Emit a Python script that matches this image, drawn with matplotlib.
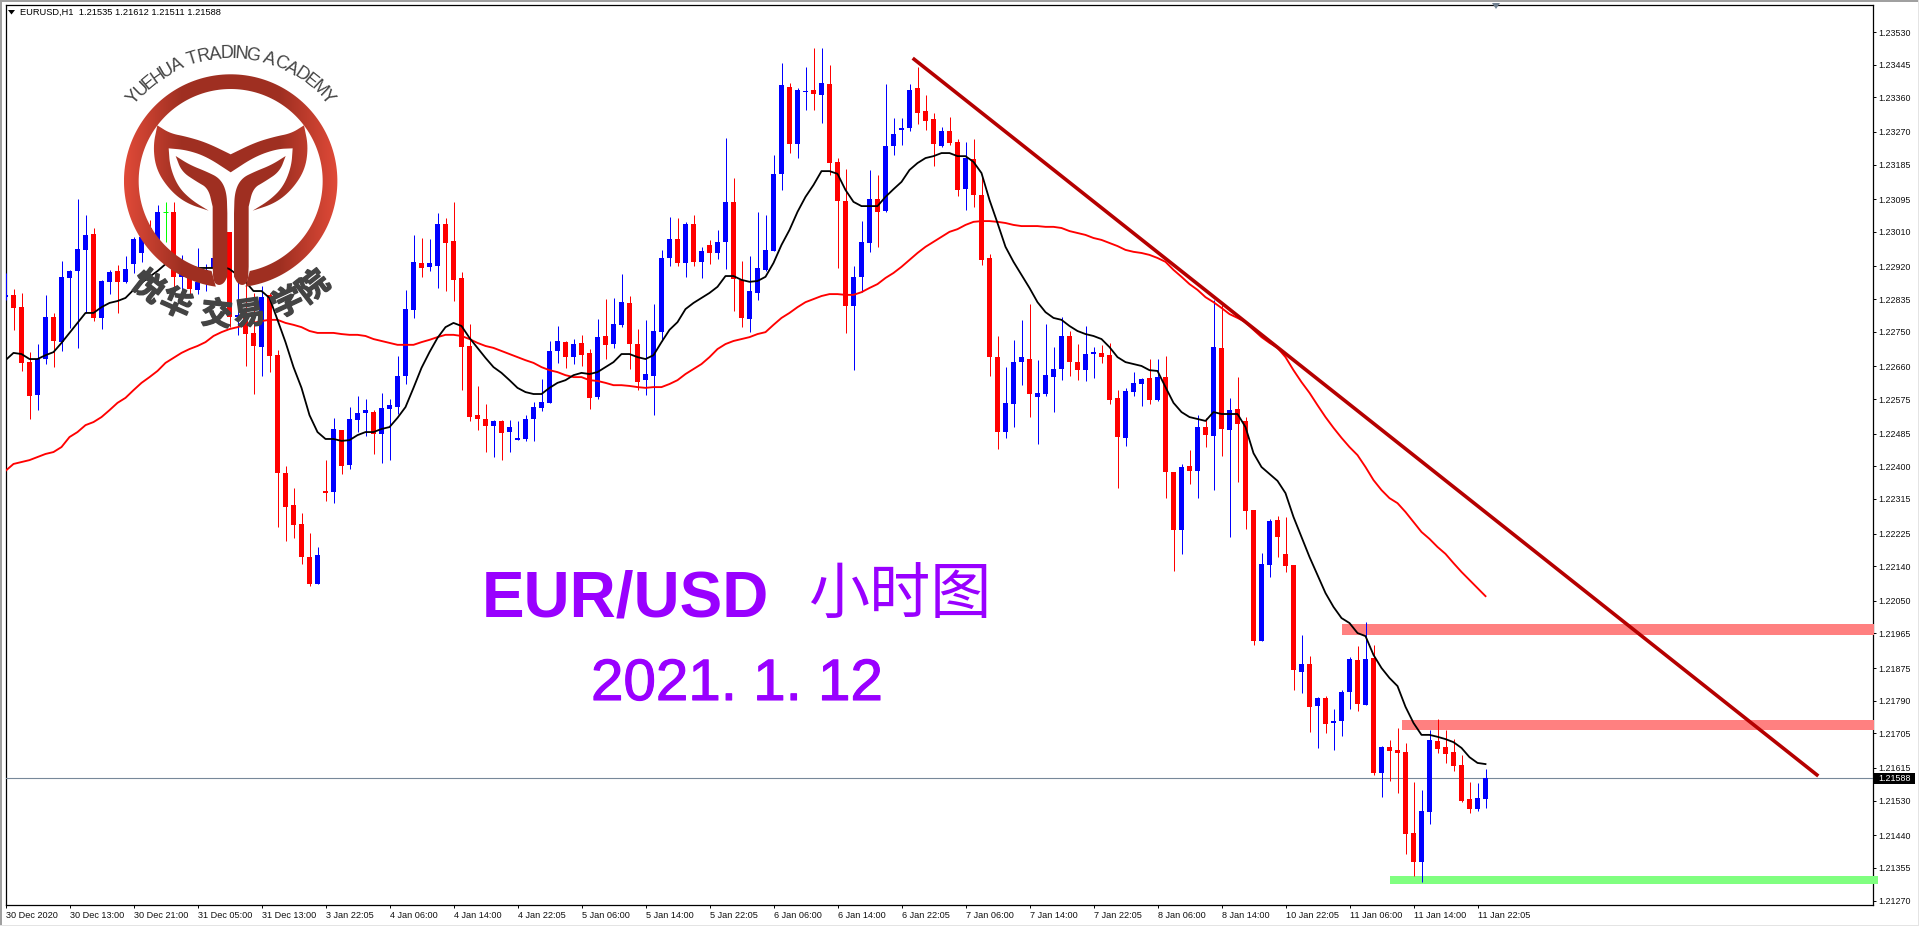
import numpy as np
import matplotlib
matplotlib.use("Agg")
import matplotlib.pyplot as plt
import matplotlib.patheffects as pe
from matplotlib.path import Path
from matplotlib.patches import PathPatch, Polygon, Rectangle
from matplotlib.textpath import TextPath
from matplotlib.font_manager import FontProperties
from matplotlib.transforms import ScaledTranslation

# ---------- data (prices expressed in points above 1.20000) ----------
base_price = 1.2
point = 1e-5

highs = [2903,2861,2851,2697,2718,2846,2799,2934,2911,3096,
3054,3020,2885,2911,2924,2947,2997,3010,3041,3080,
3088,3088,2950,2924,2968,2926,2958,2950,3010,2903,
2877,2851,2869,2851,2703,2401,2343,2278,2226,2190,
2416,2526,2494,2554,2583,2575,2546,2591,2575,2687,
2859,3002,2994,2991,3059,3046,3088,2906,2770,2609,
2562,2520,2520,2520,2518,2533,2567,2627,2726,2765,
2726,2731,2742,2705,2783,2835,2838,2900,2843,2757,
2781,2822,2963,3049,3046,3036,3054,2971,2989,3015,
3254,3150,2934,2947,3062,3054,3210,3449,3397,3384,
3439,3488,3488,3444,3202,3174,2921,3038,3171,3158,
3395,3306,3306,3395,3439,3366,3319,3283,3309,3252,
3244,3252,3158,2952,2739,2658,2729,2781,2822,2676,
2770,2710,2788,2752,2718,2765,2710,2716,2721,2598,
2604,2645,2630,2679,2679,2687,2385,2406,2442,2533,
2526,2833,2820,2578,2632,2528,2286,2174,2263,2271,
2268,2143,1961,1906,1800,1802,1768,1818,1904,1932,
1995,1935,1672,1688,1719,1680,1578,1558,1714,1742,
1714,1690,1649,1578,1576,1612]

lows = [2833,2755,2648,2523,2546,2666,2658,2700,2760,2708,
2799,2778,2757,2848,2799,2877,2903,2932,2963,2963,
2984,2859,2859,2846,2848,2856,2898,2911,2762,2742,
2661,2588,2635,2645,2242,2206,2213,2146,2088,2094,
2310,2304,2380,2393,2489,2479,2432,2409,2416,2536,
2614,2786,2893,2908,2864,2856,2830,2598,2518,2494,
2437,2424,2416,2437,2468,2466,2466,2544,2565,2669,
2656,2666,2661,2549,2575,2679,2708,2762,2653,2598,
2585,2533,2726,2921,2921,2893,2921,2890,2926,2939,
2913,2804,2762,2749,2833,2908,2960,3119,3215,3202,
3327,3327,3293,3158,2916,2747,2650,2853,2958,2971,
3062,3210,3236,3272,3291,3275,3181,3231,3236,3103,
3067,3075,2924,2635,2445,2474,2502,2611,2528,2458,
2583,2541,2624,2635,2624,2622,2630,2669,2562,2343,
2453,2583,2557,2562,2570,2317,2128,2172,2354,2317,
2450,2338,2427,2216,2359,2237,1935,1945,2112,2164,
2125,1818,1810,1708,1667,1706,1662,1698,1768,1763,
1779,1597,1539,1581,1550,1391,1334,1318,1469,1654,
1628,1607,1526,1498,1503,1511]

opens = [2840,2846,2814,2671,2585,2679,2788,2723,2890,2908,
2963,3004,2786,2880,2908,2880,2926,2955,3020,2989,
3062,3062,2893,2893,2859,2885,2916,2942,3010,2788,
2788,2747,2710,2846,2689,2382,2299,2250,2164,2094,
2336,2333,2494,2403,2520,2539,2541,2484,2549,2554,
2635,2807,2929,2919,2921,3030,2986,2890,2713,2533,
2523,2505,2518,2489,2468,2471,2523,2552,2565,2700,
2723,2684,2721,2695,2580,2739,2718,2768,2825,2718,
2624,2635,2749,2942,2991,2929,3030,2932,2976,2955,
2984,3088,2885,2783,2851,2911,2960,3161,3387,3239,
3374,3379,3366,3395,3192,3090,2817,2893,2981,3096,
3064,3233,3275,3280,3384,3324,3304,3233,3272,3244,
3121,3200,3106,2942,2684,2489,2562,2671,2679,2580,
2588,2632,2653,2739,2671,2650,2692,2695,2689,2578,
2474,2593,2614,2630,2572,2632,2385,2234,2401,2388,
2502,2479,2708,2494,2549,2518,2286,1945,2143,2260,
2172,2143,1865,1885,1776,1797,1732,1737,1813,1896,
1779,1901,1602,1669,1662,1656,1446,1370,1500,1685,
1669,1656,1623,1534,1508,1535]

closes = [2846,2812,2669,2583,2679,2788,2726,2893,2908,2965,
3002,2786,2882,2906,2880,2913,2991,2997,2989,3062,
3062,2893,2924,2861,2880,2911,2942,2926,2788,2794,
2744,2713,2840,2687,2382,2294,2247,2164,2094,2169,
2330,2497,2401,2523,2539,2546,2484,2552,2559,2635,
2809,2932,2916,2929,3030,2981,2885,2710,2528,2523,
2505,2518,2487,2502,2474,2523,2554,2567,2700,2726,
2684,2718,2689,2578,2736,2716,2770,2827,2718,2619,
2640,2752,2942,2991,2929,3030,2932,2960,2955,2984,
3088,2887,2786,2856,2916,2963,3161,3392,3239,3379,
3376,3369,3397,3189,3090,2817,2893,2984,3096,3062,
3233,3265,3280,3379,3319,3298,3239,3272,3241,3119,
3202,3106,2937,2684,2489,2565,2671,2684,2588,2591,
2637,2653,2739,2671,2650,2692,2697,2684,2572,2476,
2596,2617,2627,2572,2632,2385,2234,2398,2388,2502,
2481,2710,2497,2546,2510,2284,1945,2146,2258,2216,
2140,1870,1885,1774,1797,1729,1737,1813,1898,1781,
1898,1602,1669,1659,1654,1443,1370,1503,1688,1664,
1651,1620,1529,1508,1537,1588]

ma_fast = [2676,2695,2692,2679,2679,2689,2697,2721,2747,2773,
2799,2799,2814,2825,2830,2838,2859,2877,2893,2908,
2926,2937,2932,2921,2916,2916,2916,2921,2913,2898,
2880,2856,2856,2838,2781,2723,2658,2604,2533,2489,
2471,2471,2466,2468,2481,2489,2489,2497,2502,2526,
2554,2604,2656,2697,2734,2762,2773,2765,2734,2708,
2682,2658,2643,2624,2604,2593,2588,2588,2604,2617,
2624,2637,2643,2640,2645,2658,2671,2692,2692,2684,
2679,2689,2723,2755,2775,2809,2825,2838,2851,2867,
2895,2895,2885,2880,2882,2893,2929,2976,3015,3062,
3101,3132,3168,3168,3161,3119,3088,3077,3077,3077,
3101,3121,3140,3171,3189,3202,3207,3215,3215,3207,
3207,3192,3163,3093,3033,2971,2932,2898,2864,2827,
2801,2786,2781,2765,2752,2744,2739,2731,2710,2684,
2671,2666,2661,2650,2648,2606,2565,2541,2528,2523,
2518,2541,2536,2536,2536,2502,2434,2398,2380,2362,
2330,2268,2216,2164,2117,2070,2034,2005,1992,1966,
1958,1909,1875,1849,1828,1774,1732,1701,1701,1696,
1690,1682,1667,1643,1628,1625]

ma_slow = [2388,2406,2411,2416,2424,2432,2437,2450,2476,2489,
2507,2515,2528,2546,2565,2578,2598,2617,2632,2648,
2669,2682,2695,2705,2713,2723,2739,2749,2757,2762,
2768,2773,2778,2781,2781,2773,2768,2762,2752,2747,
2747,2747,2744,2742,2742,2739,2731,2726,2721,2716,
2716,2716,2723,2729,2736,2742,2742,2739,2731,2721,
2713,2708,2700,2692,2684,2676,2669,2658,2650,2645,
2637,2632,2632,2624,2622,2617,2611,2611,2609,2606,
2604,2606,2606,2614,2624,2640,2653,2666,2684,2705,
2718,2726,2731,2736,2744,2749,2768,2786,2799,2814,
2827,2835,2843,2848,2848,2846,2846,2853,2864,2874,
2890,2903,2919,2937,2955,2971,2984,2997,3010,3017,
3028,3036,3038,3038,3036,3033,3028,3025,3025,3025,
3023,3023,3020,3012,3007,3002,2994,2989,2981,2973,
2963,2958,2955,2950,2942,2932,2911,2893,2874,2859,
2840,2827,2812,2796,2786,2775,2755,2736,2721,2708,
2684,2650,2619,2591,2559,2528,2500,2474,2450,2429,
2398,2364,2338,2317,2304,2281,2255,2229,2211,2190,
2172,2148,2125,2104,2083,2062]

price_ticks = [1.23530,1.23445,1.23360,1.23270,1.23185,1.23095,1.23010,1.22920,1.22835,
               1.22750,1.22660,1.22575,1.22485,1.22400,1.22315,1.22225,1.22140,1.22050,
               1.21965,1.21875,1.21790,1.21705,1.21615,1.21530,1.21440,1.21355,1.21270]

time_labels = ["30 Dec 2020","30 Dec 13:00","30 Dec 21:00","31 Dec 05:00","31 Dec 13:00",
               "3 Jan 22:05","4 Jan 06:00","4 Jan 14:00","4 Jan 22:05","5 Jan 06:00",
               "5 Jan 14:00","5 Jan 22:05","6 Jan 06:00","6 Jan 14:00","6 Jan 22:05",
               "7 Jan 06:00","7 Jan 14:00","7 Jan 22:05","8 Jan 06:00","8 Jan 14:00",
               "10 Jan 22:05","11 Jan 06:00","11 Jan 14:00","11 Jan 22:05"]

last_price = 1588
trend_idx = [113.4, 226.6]
trend_pts = [3462, 1594]
# zones: start index, end index, upper price, lower price, colour
zone_start = [167.1, 174.6, 173.1]
zone_end = [233.5, 233.5, 234.1]
zone_top = [1990, 1740, 1334]
zone_bottom = [1961, 1714, 1313]
zone_color = ["#FF8080", "#FF8080", "#80FF80"]

header = "EURUSD,H1  1.21535 1.21612 1.21511 1.21588"

# ---------- figure ----------
W, H = 1920, 927
fig = plt.figure(figsize=(W / 100, H / 100), dpi=100, facecolor="white")
L, R, T, B = 5.5, 1872.5, 4.5, 904.5
ax = fig.add_axes([L / W, 1 - B / H, (R - L) / W, (B - T) / H], zorder=1)
to_price = lambda a: base_price + np.asarray(a, dtype=float) * point
ax.set_xlim(0, (R - L) / 8)
ax.set_ylim(to_price(1259.6), to_price(3601.6))
for s in ax.spines.values():
    s.set_linewidth(0.9)
    s.set_color("black")

o, h, l, c = map(to_price, (opens, highs, lows, closes))
idx = np.arange(len(o))
up = c > o
down = c < o
flat = c == o
colors = np.where(up, "#0000FF", np.where(down, "#FF0000", "#00FF00"))

ax.vlines(idx, l, h, colors=colors, linewidth=0.72, antialiased=True, zorder=4)
ax.bar(idx[~flat], np.abs(c - o)[~flat], bottom=np.minimum(o, c)[~flat], width=5 / 8,
       color=colors[~flat], linewidth=0, antialiased=True, zorder=4.1)
ax.hlines(o[flat], idx[flat] - 2.5 / 8, idx[flat] + 2.5 / 8, colors=colors[flat],
          linewidth=0.72, antialiased=True, zorder=4.1)

ax.plot(idx, to_price(ma_slow), color="#FF0000", lw=1.35, zorder=5)
ax.plot(idx, to_price(ma_fast), color="black", lw=1.3, zorder=5.1)
ax.plot(trend_idx, to_price(trend_pts), color="#B50000", lw=2.6, zorder=6,
        solid_capstyle="butt")
ax.axhline(to_price(last_price), color="#778899", lw=0.8, zorder=3.5)
for s, e, t, b, col in zip(zone_start, zone_end, zone_top, zone_bottom, zone_color):
    ax.add_patch(Rectangle((s, to_price(b)), e - s, to_price(t) - to_price(b), color=col,
                           linewidth=0, zorder=3, clip_on=False))

ax.yaxis.tick_right()
ax.set_yticks(price_ticks)
ax.set_yticklabels([f"{p:.5f}" for p in price_ticks], fontsize=6.4,
                   family="Liberation Sans", color="#101010")
ax.set_xticks(np.arange(len(time_labels)) * 8)
ax.set_xticklabels(time_labels, fontsize=6.6, family="Liberation Sans", ha="left",
                   color="#101010")
shift = ScaledTranslation(-1.5 / 100, 0, fig.dpi_scale_trans)
for t in ax.get_xticklabels():
    t.set_transform(t.get_transform() + shift)
ax.tick_params(axis="y", length=2.2, width=0.7, pad=2.2)
ax.tick_params(axis="x", length=2.2, width=0.7, pad=2.6)

# ---------- overlay in pixel space: window frame, logo, captions ----------
ov = fig.add_axes([0, 0, 1, 1], zorder=2, facecolor="none")
ov.set_xlim(0, W)
ov.set_ylim(H, 0)
ov.axis("off")

ov.add_patch(Rectangle((0, 0), 2, 926, color="#A0A0A0", lw=0))
ov.add_patch(Rectangle((0, 0), 1918, 2, color="#A0A0A0", lw=0))
ov.add_patch(Rectangle((1918, 0), 1, 926, color="#E4E4E4", lw=0))
ov.add_patch(Rectangle((0, 925), 1919, 1, color="#E4E4E4", lw=0))

ov.add_patch(Polygon([(8, 10), (15, 10), (11.5, 14.5)], color="black", lw=0))
ov.add_patch(Polygon([(1492, 3), (1500, 3), (1496, 9)], color="#708090", lw=0))
ov.text(20, 12.5, header, fontsize=6.65, family="Liberation Sans", va="center",
        ha="left", color="black")

ov.add_patch(Rectangle((1874, 773), 41, 11, color="black", lw=0))
ov.text(1878.5, 778.7, f"{to_price(last_price):.5f}", fontsize=6.4, family="Liberation Sans",
        color="white", va="center", ha="left")

# logo
cx, cy = 230.67, 181.0


def smooth_open(pts, n=3):
    """Corner-cutting that keeps both end points, so sharp tips stay sharp."""
    p = np.asarray(pts, dtype=float) / 3
    for _ in range(n):
        a, b = p[:-1], p[1:]
        mid = np.column_stack([0.75 * a + 0.25 * b, 0.25 * a + 0.75 * b]).reshape(-1, 2)
        p = np.vstack([p[:1], mid, p[-1:]])
    return p


def outline(*segments):
    return np.vstack([smooth_open(s)[:-1] for s in segments])


a_out = np.radians(np.linspace(-172, 172, 200))
a_in = np.radians(np.linspace(168, -168, 200))
ring = np.vstack([
    np.column_stack([cx + 106.7 * np.sin(a_out), cy - 106.7 * np.cos(a_out)]),
    np.column_stack([cx + 92 * np.sin(a_in), cy - 92 * np.cos(a_in)]),
])
wings = outline(
    [(472,376),(510,400),(560,410),(620,428),(692,463)],
    [(692,463),(764,428),(824,410),(874,400),(912,376)],
    [(912,376),(925,440),(915,510),(875,570),(825,610),(758,632)],
    [(758,632),(810,600),(850,560),(874,500),(878,445)],
    [(878,445),(830,447),(764,470),(692,517)],
    [(692,517),(620,470),(560,450),(506,445)],
    [(506,445),(510,500),(534,560),(574,600),(626,632)],
    [(626,632),(559,610),(509,570),(469,510),(459,440),(472,376)],
)
stem_l = outline(
    [(527,468),(570,495),(620,515),(660,535),(680,575),(682,640)],
    [(682,640),(682,830)],
    [(682,830),(672,850),(655,857),(640,845),(638,800)],
    [(638,800),(638,620)],
    [(638,620),(625,565),(590,545),(545,515),(527,468)],
)
stem_r = stem_l.copy()
stem_r[:, 0] = 2 * cx - stem_r[:, 0]

xs = np.linspace(cx - 107, cx + 107, 214)
base_col = np.array([0.627, 0.188, 0.133])
edge_col = np.array([0.878, 0.290, 0.220])
frac = np.clip((np.abs(xs - cx) - 50) / 57, 0, 1)[None, :, None]
grad = base_col[None, None, :] * (1 - frac) + edge_col[None, None, :] * frac
for shape in (ring, wings, stem_l, stem_r):
    im = ov.imshow(grad, extent=(cx - 107, cx + 107, cy + 107, cy - 107), aspect="auto",
                   interpolation="bilinear", zorder=7)
    clip = PathPatch(Path(np.vstack([shape, shape[:1]]), closed=True), transform=ov.transData,
                     fc="none", ec="none")
    ov.add_patch(clip)
    im.set_clip_path(clip)
ov.set_xlim(0, W)
ov.set_ylim(H, 0)

# curved school name
name = "YUEHUA TRADING ACADEMY"
fp = FontProperties(family="Liberation Sans")
widths = [TextPath((0, 0), ch, size=18, prop=fp).get_extents().width + 1.8
          if ch != " " else 5.5 for ch in name]
edges = np.concatenate([[0], np.cumsum(widths)])
centres = (edges[:-1] + edges[1:]) / 2
angles = np.radians(-52 + 104 * centres / edges[-1])
for ch, ang in zip(name, angles):
    ov.text(cx + 127.5 * np.sin(ang), cy - 127.5 * np.cos(ang), ch, fontsize=13,
            family="Liberation Sans", color="#444444", rotation=-np.degrees(ang),
            rotation_mode="anchor", ha="center", va="center", zorder=8)

cn_name = "悦华交易学院"
cn_angles = [38, 24, 6, -8, -25, -38]
for ch, b in zip(cn_name, cn_angles):
    br = np.radians(b)
    ov.text(cx - 135 * np.sin(br), cy + 135 * np.cos(br), ch, fontsize=22.5,
            family="Noto Sans CJK SC", weight="bold", color="#444444", rotation=-b,
            rotation_mode="anchor", ha="center", va="center", zorder=8,
            path_effects=[pe.withStroke(linewidth=1.0, foreground="#444444")])

# captions
purple = "#9900FF"
ov.text(482, 617, "EUR/USD", fontsize=46, family="Liberation Sans", weight="bold", color=purple,
        ha="left", va="baseline", zorder=8)
ov.text(900, 597, "小时图", fontsize=44, family="Noto Sans CJK SC", color=purple,
        ha="center", va="center", zorder=8)
ov.text(591, 700, "2021. 1. 12", fontsize=42, family="Liberation Sans", color=purple,
        ha="left", va="baseline", zorder=8,
        path_effects=[pe.withStroke(linewidth=0.8, foreground=purple)])

fig.savefig("out.png", dpi=100, facecolor="white")
